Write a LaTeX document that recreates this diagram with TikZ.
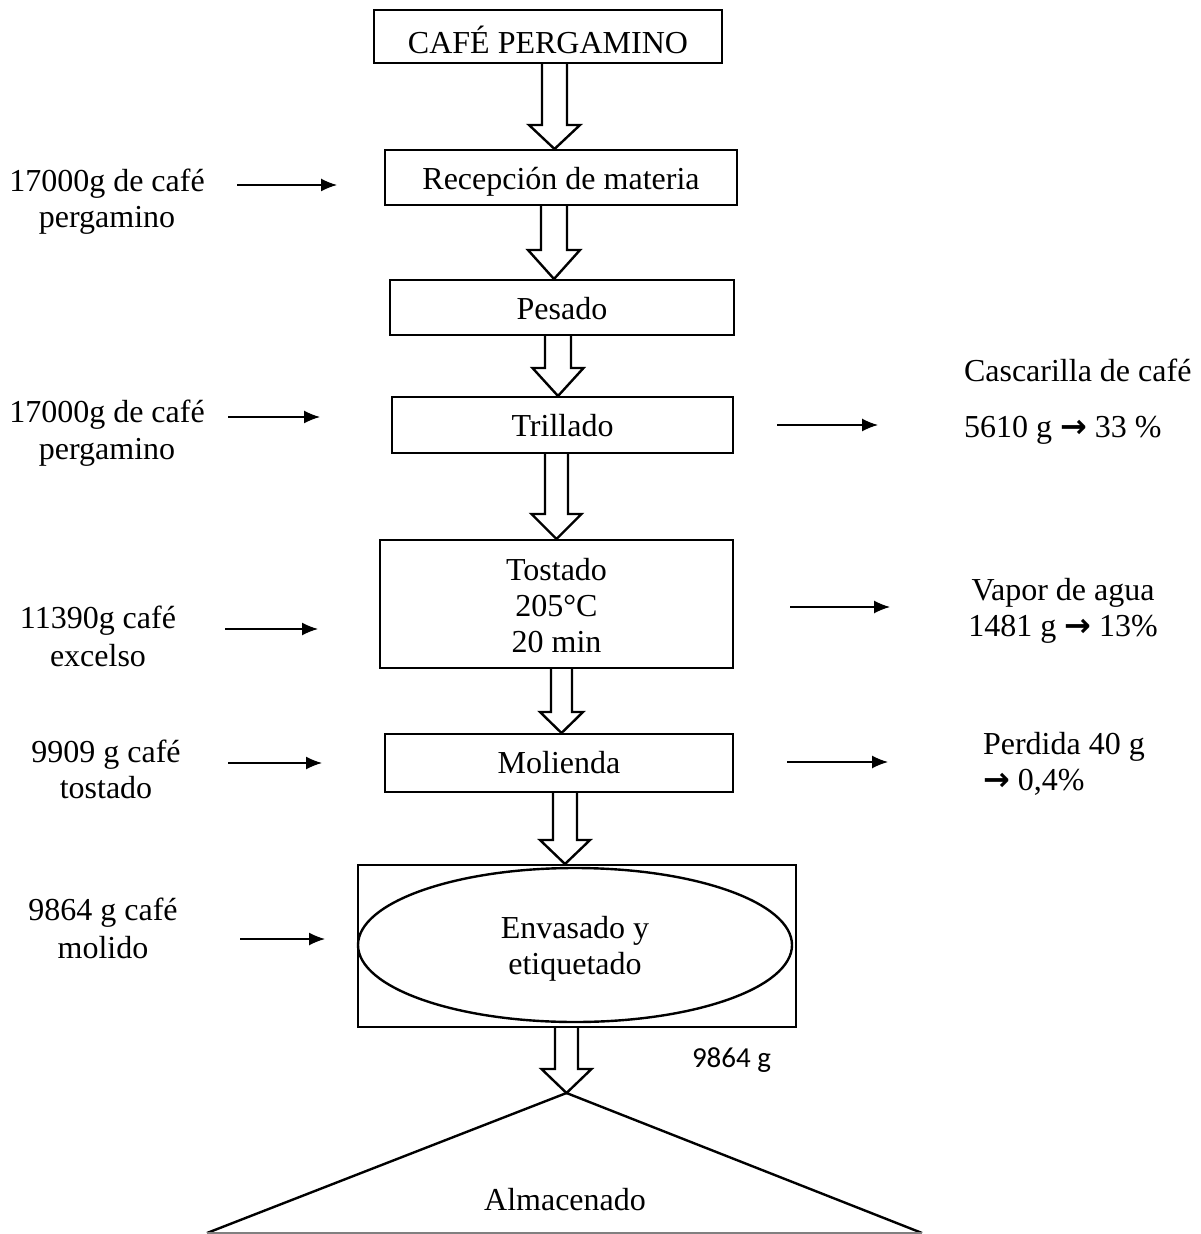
\documentclass[tikz,border=0pt]{standalone}
\usepackage{fontspec}
\setmainfont{Liberation Serif}
\newfontfamily\carl{Carlito}
\newfontfamily\arrfont{DejaVu Sans}
\usetikzlibrary{arrows.meta,shapes.geometric}
\newcommand\thickarr{{\arrfont\bfseries →}}
\newcommand\stkc[1]{\begin{tabular}[t]{@{}c@{}}#1\end{tabular}}
\newcommand\stkl[1]{\begin{tabular}[t]{@{}l@{}}#1\end{tabular}}
\newcommand\harrow[6]{\draw[hol] (#1-#2,#4) -- (#1-#2,#5) -- (#1-#3,#5) -- (#1,#6) -- (#1+#3,#5) -- (#1+#2,#5) -- (#1+#2,#4);}
\begin{document}
\begin{tikzpicture}[x=0.5pt,y=-0.5pt,
  every node/.style={inner sep=0pt, outer sep=0pt, font=\fontsize{16}{18}\selectfont},
  box/.style={draw, line width=1.2pt},
  txt/.style={anchor=base},
  thinarr/.style={line width=0.7pt, -{Latex[length=8pt,width=6.5pt]}},
  hol/.style={line width=1.2pt, line join=miter}]
\useasboundingbox (0,0) rectangle (1200,1234);

% boxes
\node[box, minimum width=174pt, minimum height=26.5pt, text height=16.8pt, text depth=0pt] (cafe) at (548,36.5) {CAFÉ PERGAMINO};
\node[box, minimum width=176pt, minimum height=27.5pt, text height=12.5pt, text depth=0pt] (recep) at (561,177.5) {Recepción de materia};
\node[box, minimum width=172pt, minimum height=27.5pt, text height=12.5pt, text depth=0pt] (pesado) at (562,307.5) {Pesado};
\node[box, minimum width=170.5pt, minimum height=28pt, text height=12pt, text depth=0pt] (trillado) at (562.5,425) {Trillado};
\node[box, minimum width=176.5pt, minimum height=64pt, text height=0pt, text depth=24pt] (tostado) at (556.5,604) {\stkc{Tostado\\205°C\\20 min}};
\node[box, minimum width=174pt, minimum height=29pt, text height=10pt, text depth=0pt] (molienda) at (559,763) {Molienda};
\node[box, minimum width=219pt, minimum height=81pt] (envbox) at (577,946) {};
\node[draw, ellipse, line width=1.2pt, minimum width=217pt, minimum height=77pt, text height=0pt, text depth=7pt] (env) at (575,945) {\stkc{Envasado y\\etiquetado}};

% hollow arrows
\harrow{554.5}{12.5}{25.5}{63}{125}{149}
\harrow{554}{13}{26}{205}{250}{279}
\harrow{558}{13}{25.5}{335}{368}{396}
\harrow{556.5}{11.5}{25}{453}{514}{539}
\harrow{561.5}{10.5}{21.5}{668}{712}{733}
\harrow{565}{12}{25}{792}{840}{864}
\harrow{566.5}{11.5}{25}{1027}{1069}{1093}

% storage triangle
\coordinate (apex) at (566.5,1093);
\coordinate (tl) at (207,1233);
\coordinate (tr) at (922,1233);
\draw[line width=1.2pt] (tl) -- (apex) -- (tr);
\draw[line width=0.8pt, gray] (tl) -- (tr);
\node[txt] (alm) at (565,1210) {Almacenado};
\node[txt, font=\carl\fontsize{14.5}{17}\selectfont] (peso) at (731.5,1067) {9864 g};

% left inputs
\node[txt] (in1) at (107,192) {\stkc{17000g de café\\pergamino}};
\node[txt] (in2) at (107,423) {\stkc{17000g de café\\pergamino}};
\node[txt] (in3) at (98,628) {\stkc{11390g café\\[1pt]excelso}};
\node[txt] (in4) at (106,762) {\stkc{9909 g café\\tostado}};
\node[txt] (in5) at (103,920) {\stkc{9864 g café\\[1pt]molido}};
\coordinate (a1s) at (237,185); \coordinate (a1e) at (337,185);
\coordinate (a2s) at (228,417); \coordinate (a2e) at (320,417);
\coordinate (a3s) at (225,629); \coordinate (a3e) at (318,629);
\coordinate (a4s) at (228,763); \coordinate (a4e) at (322,763);
\coordinate (a5s) at (240,939); \coordinate (a5e) at (325,939);
\draw[thinarr] (a1s) -- (a1e);
\draw[thinarr] (a2s) -- (a2e);
\draw[thinarr] (a3s) -- (a3e);
\draw[thinarr] (a4s) -- (a4e);
\draw[thinarr] (a5s) -- (a5e);

% right outputs
\node[txt, anchor=base west] (out1) at (964,382) {\stkl{Cascarilla de café\\[10pt]5610 g \thickarr{} 33 \%}};
\node[txt] (out2) at (1063,600) {\stkc{Vapor de agua\\1481 g \thickarr{} 13\%}};
\node[txt, anchor=base west] (out3) at (983,754) {\stkl{Perdida 40 g\\\thickarr{} 0,4\%}};
\coordinate (b1s) at (777,425); \coordinate (b1e) at (878,425);
\coordinate (b2s) at (790,607); \coordinate (b2e) at (890,607);
\coordinate (b3s) at (787,762); \coordinate (b3e) at (888,762);
\draw[thinarr] (b1s) -- (b1e);
\draw[thinarr] (b2s) -- (b2e);
\draw[thinarr] (b3s) -- (b3e);
\end{tikzpicture}
\end{document}
